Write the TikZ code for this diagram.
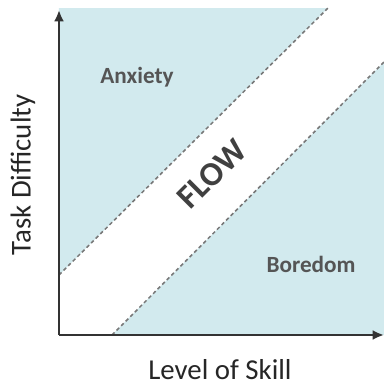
\documentclass[tikz,border=0pt]{standalone}
\usepackage{fontspec}
\setmainfont{Carlito}
\usepackage{tikz}
\usetikzlibrary{arrows.meta}
\definecolor{zonefill}{RGB}{210,234,238}
\definecolor{edgegray}{RGB}{120,120,120}
\definecolor{textgray}{RGB}{85,85,85}

\begin{document}
\begin{tikzpicture}[x=0.025cm, y=0.025cm,
  zone/.style={fill=zonefill, draw=none},
  edge/.style={draw=edgegray, line width=1.1pt, dash pattern=on 2.6pt off 2pt},
  axis/.style={draw=black!80, line width=2pt, -{Latex[length=8pt, width=7pt]}},
  region/.style={font=\fontsize{16.5}{18}\selectfont\bfseries, text=textgray},
  axlabel/.style={inner sep=0pt, font=\fontsize{20.5}{22}\selectfont, text=black!85}]
\useasboundingbox (0,0) rectangle (384,384);
% corner points of the two zones
\coordinate (origin) at (59,49);
\coordinate (ytop) at (59,374);
\coordinate (xend) at (384,49);
\coordinate (hiLeft) at (59,109);
\coordinate (hiTop) at (328,376);
\coordinate (loLeft) at (112,49);
\coordinate (loRight) at (384,322);
\fill[zone] (hiLeft) -- (59,376) -- (hiTop) -- cycle;
\fill[zone] (loLeft) -- (384,49) -- (loRight) -- cycle;
\draw[edge] (hiLeft) -- (hiTop);
\draw[edge] (loLeft) -- (loRight);
\draw[axis] (origin) -- (ytop);
\draw[axis] (origin) -- (xend);
\node[region] (anxiety) at (137,307) {Anxiety};
\node[region] (boredom) at (311,120) {Boredom};
\node[font=\fontsize{24}{26}\selectfont\bfseries, text=black!75, rotate=45, inner sep=0pt] (flow) at (212,210) {FLOW};
\node[axlabel, rotate=90] (ylabel) at (23,209) {Task Difficulty};
\node[axlabel] (xlabel) at (220,14) {Level of Skill};
\end{tikzpicture}
\end{document}
